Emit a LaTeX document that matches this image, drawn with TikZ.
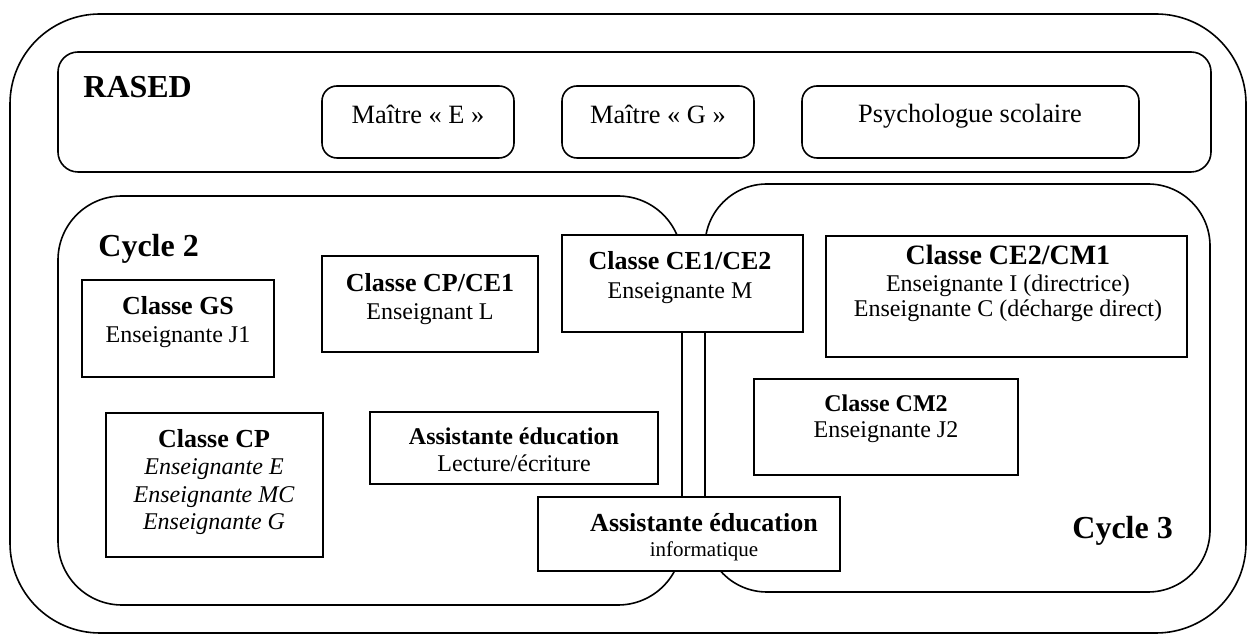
\documentclass[tikz,border=0pt]{standalone}
\usepackage{fontspec}
\setmainfont{Liberation Serif}
\usetikzlibrary{fit}

\tikzset{
  region/.style={draw, line width=0.8pt},
  rasedbox/.style={draw, line width=0.8pt, inner sep=0pt, rounded corners=7.5pt},
  classbox/.style={draw, fill=white, line width=0.8pt, inner sep=0pt},
  boxtext/.style={anchor=base, align=center, inner sep=0pt, font=\fontsize{12}{14}\selectfont},
  rasedtext/.style={boxtext, font=\fontsize{13.2}{15}\selectfont},
  tag/.style={anchor=base west, inner sep=0pt, font=\bfseries\fontsize{16}{18}\selectfont}
}
\newcommand{\classtitle}[2]{{\bfseries\fontsize{#1}{14}\selectfont #2}}

\begin{document}
\begin{tikzpicture}[x=0.5pt,y=-0.5pt]
\useasboundingbox (0,0) rectangle (1248,635);

% frames
\draw[region, rounded corners=45pt] (10,14) rectangle (1246,633);
\draw[region, rounded corners=10pt] (58,52) rectangle (1211,172);
\draw[region, rounded corners=32pt] (58,196) rectangle (682,605);
\draw[region, rounded corners=31pt] (705,184) rectangle (1210,592);

\node[tag] (rased) at (83,98) {RASED};
\node[tag] (cycleA) at (98,257) {Cycle 2};
\node[tag] (cycleB) at (1072,539) {Cycle 3};

% RASED
\node[rasedbox, fit={(322,86) (514,158)}] (maitreE) {};
\node[rasedtext] (maitreEtxt) at (418,124) {Maître « E »};
\node[rasedbox, fit={(562,86) (754,158)}] (maitreG) {};
\node[rasedtext] (maitreGtxt) at (658,124) {Maître « G »};
\node[rasedbox, fit={(802,86) (1139,158)}] (psy) {};
\node[rasedtext] (psytxt) at (970,123) {Psychologue scolaire};

% classes (text placed on the baseline of its last line)
\node[classbox, fit={(82,280) (274,377)}] (gs) {};
\node[boxtext] (gstxt) at (178,343) {\classtitle{13}{Classe GS}\\ Enseignante J1};

\node[classbox, fit={(322,256) (538,352)}] (cpce) {};
\node[boxtext] (cpcetxt) at (430,320) {\classtitle{13}{Classe CP/CE1}\\ Enseignant L};

\node[classbox, fit={(562,235) (803,332)}] (ceA) {};
\node[boxtext] (ceAtxt) at (680,299) {\classtitle{13}{Classe CE1/CE2}\\[0.5pt] Enseignante M};

\node[classbox, fit={(826,236) (1187,357)}] (ceB) {};
\node[boxtext] (ceBtxt) at (1008,317) {\classtitle{14}{Classe CE2/CM1}\\[-0.5pt] Enseignante I (directrice)\\[-1.5pt] Enseignante C (décharge direct)};

\node[classbox, fit={(754,379) (1018,475)}] (cm) {};
\node[boxtext] (cmtxt) at (886,438) {\classtitle{12}{Classe CM2}\\[-1pt] Enseignante J2};

\node[classbox, fit={(106,413) (323,557)}] (cp) {};
\node[boxtext] (cptxt) at (214,530) {\classtitle{13}{Classe CP}\\[-0.5pt] \itshape Enseignante E\\ \itshape Enseignante MC\\[-0.5pt] \itshape Enseignante G};

\node[classbox, fit={(370,412) (658,484)}] (lect) {};
\node[boxtext] (lecttxt) at (514,472) {\classtitle{12}{Assistante éducation}\\[-0.5pt] Lecture/écriture};

\node[classbox, fit={(538,497) (840,571)}] (info) {};
\node[boxtext] (infotxt) at (704,557) {\classtitle{13}{Assistante éducation}\\[-1.5pt] {\fontsize{10.5}{12}\selectfont informatique}};

\end{tikzpicture}
\end{document}
